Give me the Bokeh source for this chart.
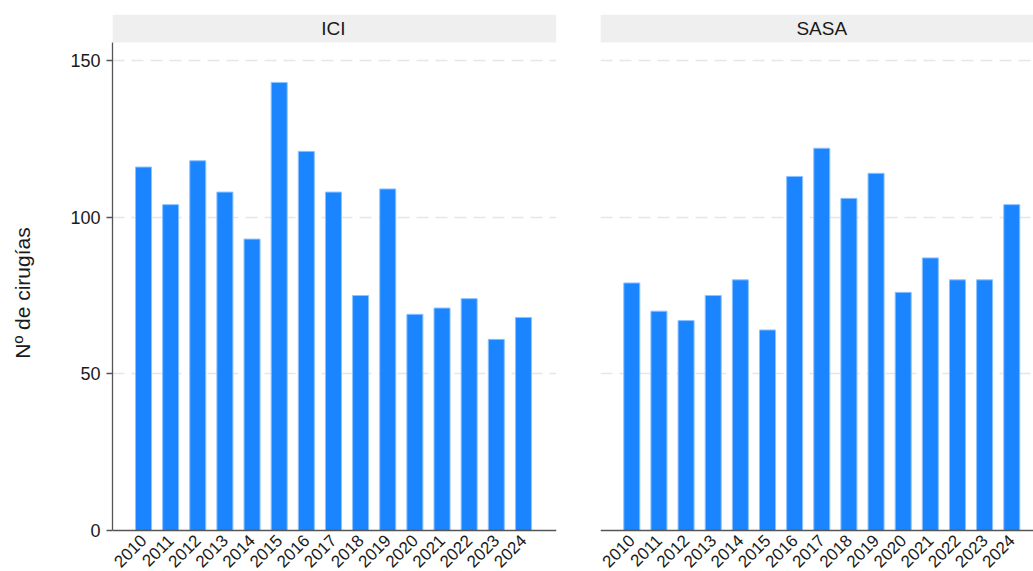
import math
from bokeh.plotting import figure
from bokeh.layouts import row
from bokeh.models import FixedTicker, BoxAnnotation, Label, Range1d
from bokeh.embed import file_html
from bokeh.resources import INLINE

# ---- data ----
years = [2010, 2011, 2012, 2013, 2014, 2015, 2016, 2017, 2018, 2019, 2020, 2021, 2022, 2023, 2024]
ici = [116, 104, 118, 108, 93, 143, 121, 108, 75, 109, 69, 71, 74, 61, 68]
sasa = [79, 70, 67, 75, 80, 64, 113, 122, 106, 114, 76, 87, 80, 80, 104]
panel_titles = ["ICI", "SASA"]
y_ticks = [0, 50, 100, 150]
grid_ticks = [50, 100, 150]
y_label = "Nº de cirugías"

FONT = "Liberation Sans"
BAR_FILL = "#1a85ff"
BAR_LINE = "#8cc2ff"
AXIS_COLOR = "#555555"
TEXT_COLOR = "#1a1a1a"

FIG_H = 571
Y_START, Y_END = -13.085, 164.68
Y_AXIS_TOP = 155.74


def make_panel(title, values, width, border_left, border_right, x_start, x_end, show_y):
    p = figure(
        width=width, height=FIG_H,
        x_range=Range1d(x_start, x_end), y_range=Range1d(Y_START, Y_END),
        output_backend="svg", toolbar_location=None,
        y_axis_location="left" if show_y else None,
        min_border_left=border_left, min_border_right=border_right,
        min_border_top=14, min_border_bottom=0,
    )
    p.outline_line_color = None
    p.background_fill_color = "white"
    p.border_fill_color = "white"

    p.vbar(x=years, top=values, bottom=0, width=0.59,
           fill_color=BAR_FILL, line_color=BAR_LINE, line_width=1)

    # header strip
    p.add_layout(BoxAnnotation(bottom=Y_AXIS_TOP, fill_color="#efefef", fill_alpha=1,
                               line_color=None))
    p.add_layout(Label(x=2017, y=160.2, text=title, text_align="center",
                       text_baseline="middle", text_font=FONT,
                       text_font_size="19px", text_color=TEXT_COLOR))

    # grid
    p.xgrid.visible = False
    p.ygrid.ticker = FixedTicker(ticks=grid_ticks)
    p.ygrid.grid_line_color = "#e6e6e6"
    p.ygrid.grid_line_width = 1.5
    p.ygrid.grid_line_dash = "12 7"

    # x axis
    xa = p.xaxis[0]
    xa.fixed_location = 0
    xa.ticker = FixedTicker(ticks=years)
    xa.major_tick_out = 0
    xa.major_tick_in = 0
    xa.minor_tick_line_color = None
    xa.axis_line_color = AXIS_COLOR
    xa.axis_line_width = 1.3
    xa.major_label_orientation = math.pi / 4
    xa.major_label_standoff = 7
    xa.major_label_text_font = FONT
    xa.major_label_text_font_size = "17px"
    xa.major_label_text_color = TEXT_COLOR

    if show_y:
        ya = p.yaxis[0]
        ya.ticker = FixedTicker(ticks=y_ticks)
        ya.bounds = (0, Y_AXIS_TOP)
        ya.major_tick_out = 6
        ya.major_tick_in = 0
        ya.minor_tick_line_color = None
        ya.axis_line_color = AXIS_COLOR
        ya.axis_line_width = 1.3
        ya.major_tick_line_color = AXIS_COLOR
        ya.major_tick_line_width = 1.3
        ya.major_label_standoff = 6
        ya.major_label_text_font = FONT
        ya.major_label_text_font_size = "18px"
        ya.major_label_text_color = TEXT_COLOR
        ya.axis_label = y_label
        ya.axis_label_text_font = FONT
        ya.axis_label_text_font_size = "21px"
        ya.axis_label_text_font_style = "normal"
        ya.axis_label_text_color = TEXT_COLOR
        ya.axis_label_standoff = 33
    return p


p1 = make_panel(panel_titles[0], ici, 578, 112, 22, 2008.858, 2025.218, True)
p2 = make_panel(panel_titles[1], sasa, 455, 22, 0, 2008.847, 2024.801, False)

layout = row(p1, p2, spacing=0)
open("out.html", "w").write(file_html(layout, INLINE))
